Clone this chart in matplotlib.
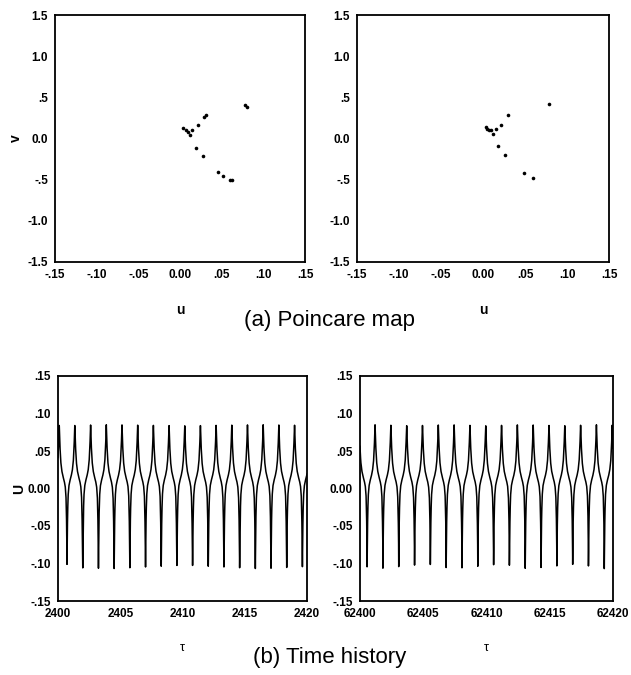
import matplotlib
matplotlib.use("Agg")
import matplotlib.pyplot as plt
import numpy as np

plt.rcParams['font.family'] = ['Liberation Sans', 'DejaVu Sans']

# Poincare map points (u, v)
u_map_a = [0.078, 0.080, 0.031, 0.029, 0.022, 0.004, 0.007, 0.009, 0.012, 0.014,
           0.019, 0.027, 0.046, 0.052, 0.060, 0.062]
v_map_a = [0.41, 0.38, 0.28, 0.26, 0.16, 0.13, 0.10, 0.08, 0.04, 0.10,
           -0.11, -0.21, -0.41, -0.46, -0.50, -0.51]
u_map_b = [0.079, 0.030, 0.021, 0.004, 0.005, 0.0075, 0.009, 0.015, 0.012,
           0.018, 0.026, 0.049, 0.060]
v_map_b = [0.42, 0.29, 0.16, 0.14, 0.12, 0.10, 0.10, 0.11, 0.05,
           -0.09, -0.20, -0.42, -0.48]

# time history: times of the upper peaks
peaks_a = [2400.10, 2401.35, 2402.62, 2403.88, 2405.14, 2406.40, 2407.66, 2408.92,
           2410.18, 2411.44, 2412.70, 2413.96, 2415.22, 2416.48, 2417.74, 2419.00, 2420.26]
peaks_b = [62399.94, 62401.19, 62402.44, 62403.69, 62404.94, 62406.19, 62407.44,
           62408.69, 62409.94, 62411.19, 62412.44, 62413.69, 62414.94, 62416.19,
           62417.44, 62418.69, 62419.94]
# one cycle of the waveform, offset from the upper peak and value of u
cycle_dt = [-0.63, -0.61, -0.58, -0.54, -0.48, -0.40, -0.30, -0.20, -0.12, -0.06, -0.02, 0.0,
            0.02, 0.06, 0.12, 0.20, 0.30, 0.40, 0.48, 0.54, 0.58, 0.61, 0.63]
cycle_u = [-0.107, -0.070, -0.035, -0.010, 0.003, 0.010, 0.016, 0.024, 0.036, 0.055, 0.074, 0.085,
           0.074, 0.055, 0.036, 0.024, 0.016, 0.010, 0.003, -0.010, -0.035, -0.070, -0.107]

map_ticks = [-0.15, -0.10, -0.05, 0.0, 0.05, 0.10, 0.15]
map_tick_labels = ['-.15', '-.10', '-.05', '0.00', '.05', '.10', '.15']
v_ticks = [-1.5, -1.0, -0.5, 0.0, 0.5, 1.0, 1.5]
v_tick_labels = ['-1.5', '-1.0', '-.5', '0.0', '.5', '1.0', '1.5']
u_ticks = [-0.15, -0.10, -0.05, 0.0, 0.05, 0.10, 0.15]
u_tick_labels = ['-.15', '-.10', '-.05', '0.00', '.05', '.10', '.15']
tau_ticks_a = [2400, 2405, 2410, 2415, 2420]
tau_ticks_b = [62400, 62405, 62410, 62415, 62420]


def build_series(peaks):
    t = []
    u = []
    for p in peaks:
        t.extend([p + d for d in cycle_dt[:-1]])
        u.extend(cycle_u[:-1])
    t = np.array(t)
    u = np.array(u)
    tt = np.linspace(peaks[0] - 0.6, peaks[-1] + 0.6, 4000)
    return tt, np.interp(tt, t, u)


def style(ax):
    for s in ax.spines.values():
        s.set_linewidth(1.3)
    ax.tick_params(length=0, labelsize=8.5, pad=5)
    for lab in ax.get_xticklabels() + ax.get_yticklabels():
        lab.set_fontweight('bold')


fig = plt.figure(figsize=(6.31, 6.75), dpi=100)
W, H = 631, 675


def add_ax(x0, x1, y0, y1):
    return fig.add_axes([x0 / W, 1 - y1 / H, (x1 - x0) / W, (y1 - y0) / H])


ax1 = add_ax(55, 305, 15, 262)
ax2 = add_ax(357, 609, 15, 262)
ax3 = add_ax(58, 307, 376, 601)
ax4 = add_ax(360, 613, 376, 601)

for ax, uu, vv in [(ax1, u_map_a, v_map_a), (ax2, u_map_b, v_map_b)]:
    ax.plot(uu, vv, 'o', color='black', ms=2.6, mew=0)
    ax.set_xlim(-0.15, 0.15)
    ax.set_ylim(-1.5, 1.5)
    ax.set_xticks(map_ticks)
    ax.set_xticklabels(map_tick_labels)
    ax.set_yticks(v_ticks)
    ax.set_yticklabels(v_tick_labels)
    ax.set_xlabel('u', fontsize=10, fontweight='bold', labelpad=16)
    style(ax)
ax1.set_ylabel('v', fontsize=10, fontweight='bold', labelpad=3)

for ax, peaks, ticks in [(ax3, peaks_a, tau_ticks_a), (ax4, peaks_b, tau_ticks_b)]:
    tt, uu = build_series(peaks)
    ax.plot(tt, uu, color='black', lw=1.1)
    ax.set_xlim(ticks[0], ticks[-1])
    ax.set_ylim(-0.15, 0.15)
    ax.set_xticks(ticks)
    ax.set_xticklabels([str(t) for t in ticks])
    ax.set_yticks(u_ticks)
    ax.set_yticklabels(u_tick_labels)
    ax.set_xlabel('\u03c4', fontsize=9, labelpad=16)
    style(ax)
ax3.set_ylabel('U', fontsize=10, fontweight='bold', labelpad=1)

fig.text(330 / W, 1 - 321 / H, '(a) Poincare map', ha='center', va='center', fontsize=16)
fig.text(330 / W, 1 - 657 / H, '(b) Time history', ha='center', va='center', fontsize=16)

fig.savefig('out.png', dpi=100)
